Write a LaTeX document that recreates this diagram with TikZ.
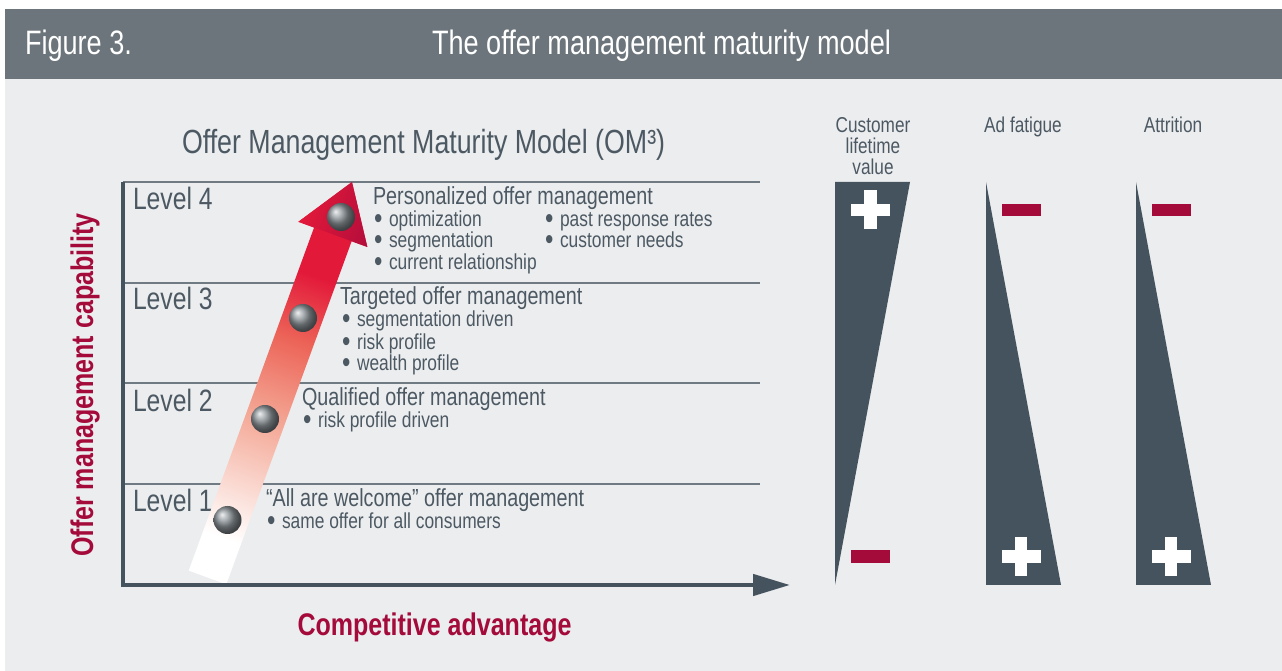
\documentclass[tikz,border=0pt]{standalone}
\usepackage{fontspec}
\setmainfont[FakeStretch=0.8]{Liberation Sans}
\usetikzlibrary{arrows.meta,shadings}
\definecolor{headergray}{HTML}{6B757B}
\definecolor{panelbg}{HTML}{ECEDEF}
\definecolor{textgray}{HTML}{4C5963}
\definecolor{slate}{HTML}{44535E}
\definecolor{linegray}{HTML}{6F7A82}
\definecolor{omred}{HTML}{A40B3B}
\definecolor{arrowsalmon}{HTML}{F4A896}
\definecolor{arrowcoral}{HTML}{EC6458}
\definecolor{arrowred}{HTML}{E3193A}
\definecolor{arrowdark}{HTML}{B20D3B}
\definecolor{ballgray}{HTML}{8C9398}
\pgfdeclareverticalshading{offerarrow}{100bp}{color(0bp)=(white); color(30bp)=(white); color(45bp)=(arrowsalmon); color(55bp)=(arrowcoral); color(63bp)=(arrowred); color(75bp)=(arrowred); color(100bp)=(arrowred)}
\newcommand{\omdot}{\makebox[7.5bp][l]{\smash{\raisebox{-0.9bp}{\fontsize{15}{12}\selectfont •}}}}
\begin{document}
\begin{tikzpicture}[>=latex,line join=bevel,
  every node/.style={inner sep=0pt,outer sep=0pt,text=textgray},
  header/.style={anchor=base west,text=white,font=\fontsize{17}{20}\selectfont},
  level/.style={anchor=base west,font=\fontsize{15.5}{18}\selectfont},
  item head/.style={anchor=base west,font=\fontsize{12.4}{14}\selectfont},
  item/.style={anchor=base west,font=\fontsize{10.9}{12}\selectfont},
  effect head/.style={anchor=base,font=\fontsize{10.8}{12}\selectfont},
  axis label/.style={anchor=base,text=omred,font=\bfseries\fontsize{15.7}{18}\selectfont},
  ball/.style={circle,minimum size=14bp,shading=ball,ball color=ballgray},
  plus bar h/.style={fill=white,minimum width=19.5bp,minimum height=6.25bp},
  plus bar v/.style={fill=white,minimum width=6.25bp,minimum height=19.5bp},
  minus bar/.style={fill=omred,minimum width=19.5bp,minimum height=6.25bp},
  level line/.style={draw=linegray,line width=0.75bp},
  axis line/.style={draw=slate,line width=2.25bp,line join=miter},
  ]
\useasboundingbox (0bp,0bp) rectangle (641bp,335.5bp);
%% backgrounds
\fill [white] (0bp,0bp) rectangle (641bp,335.5bp);
\fill [panelbg] (2.5bp,0bp) rectangle (641bp,296bp);
\fill [headergray] (2.5bp,296bp) rectangle (641bp,331bp);
\node (fig_label) at (12.5bp,308bp) [header] {Figure 3.};
\node (fig_title) at (216bp,308bp) [header] {The offer management maturity model};
\node (om_title) at (91bp,258.5bp) [anchor=base west,font=\fontsize{16.8}{19}\selectfont] {Offer Management Maturity Model (OM³)};
%% levels
\coordinate (y_top) at (61.5bp,244.5bp);
\coordinate (x_end) at (395bp,43bp);
\draw [level line] (y_top) -- (380bp,244.5bp);
\draw [level line] (61.5bp,194bp) -- (380bp,194bp);
\draw [level line] (61.5bp,144bp) -- (380bp,144bp);
\draw [level line] (61.5bp,93.5bp) -- (380bp,93.5bp);
\node (level_4) at (66.5bp,230.5bp) [level] {Level 4};
\node (level_3) at (66.5bp,180.5bp) [level] {Level 3};
\node (level_2) at (66.5bp,129.5bp) [level] {Level 2};
\node (level_1) at (66.5bp,79.5bp) [level] {Level 1};
%% red arrow
\begin{scope}[transform canvas={shift={(103.75bp,46.75bp)},rotate=-20.07}]
  \shade [shading=offerarrow] (-10bp,0bp) -- (-10bp,182.65bp) -- (-18.35bp,182.65bp) -- (0bp,210.5bp) -- (18.35bp,182.65bp) -- (10bp,182.65bp) -- (10bp,0bp) -- cycle;
  \shade [left color=arrowred,right color=arrowdark] (-18.35bp,182.65bp) -- (0bp,210.5bp) -- (18.35bp,182.65bp) -- cycle;
\end{scope}
\node (ball_4) at (170.5bp,227bp) [ball] {};
\node (ball_3) at (151.5bp,176.5bp) [ball] {};
\node (ball_2) at (132.5bp,126bp) [ball] {};
\node (ball_1) at (113.75bp,75.5bp) [ball] {};
%% axes
\draw [axis line,-{Triangle[length=18.5bp,width=10.5bp]}] (y_top) |- (x_end);
\node (y_label) at (46.5bp,143bp) [axis label,rotate=90] {Offer management capability};
\node (x_label) at (217.25bp,18bp) [axis label] {Competitive advantage};
%% level texts
\node (lvl4_head) at (186.5bp,233bp) [item head] {Personalized offer management};
\node (lvl4_a) at (187bp,222bp) [item] {\omdot optimization};
\node (lvl4_b) at (187bp,211.5bp) [item] {\omdot segmentation};
\node (lvl4_c) at (187bp,200.5bp) [item] {\omdot current relationship};
\node (lvl4_d) at (272.5bp,222bp) [item] {\omdot past response rates};
\node (lvl4_e) at (272.5bp,211.5bp) [item] {\omdot customer needs};
\node (lvl3_head) at (170bp,183bp) [item head] {Targeted offer management};
\node (lvl3_a) at (171bp,172bp) [item] {\omdot segmentation driven};
\node (lvl3_b) at (171bp,160.5bp) [item] {\omdot risk profile};
\node (lvl3_c) at (171bp,150bp) [item] {\omdot wealth profile};
\node (lvl2_head) at (151bp,132.5bp) [item head] {Qualified offer management};
\node (lvl2_a) at (151.5bp,121.5bp) [item] {\omdot risk profile driven};
\node (lvl1_head) at (133bp,82bp) [item head] {“All are welcome” offer management};
\node (lvl1_a) at (133.5bp,71bp) [item] {\omdot same offer for all consumers};
%% effects
\node (clv_head_1) at (436.5bp,269bp) [effect head] {Customer};
\node (clv_head_2) at (436.5bp,258.5bp) [effect head] {lifetime};
\node (clv_head_3) at (436.5bp,248bp) [effect head] {value};
\node (fatigue_head) at (511.5bp,269bp) [effect head] {Ad fatigue};
\node (attrition_head) at (586.5bp,269bp) [effect head] {Attrition};
\fill [slate] (417.5bp,244.5bp) -- (455bp,244.5bp) -- (417.5bp,43bp) -- cycle;
\fill [slate] (493bp,244.5bp) -- (530.5bp,43bp) -- (493bp,43bp) -- cycle;
\fill [slate] (568bp,244.5bp) -- (605.5bp,43bp) -- (568bp,43bp) -- cycle;
\node (clv_plus_h) at (435.25bp,230.5bp) [plus bar h] {};
\node (clv_plus_v) at (435.25bp,230.5bp) [plus bar v] {};
\node (clv_minus) at (435.25bp,57.25bp) [minus bar] {};
\node (fatigue_minus) at (510.5bp,230.5bp) [minus bar] {};
\node (fatigue_plus_h) at (510.5bp,57.25bp) [plus bar h] {};
\node (fatigue_plus_v) at (510.5bp,57.25bp) [plus bar v] {};
\node (attrition_minus) at (585.5bp,230.5bp) [minus bar] {};
\node (attrition_plus_h) at (585.5bp,57.25bp) [plus bar h] {};
\node (attrition_plus_v) at (585.5bp,57.25bp) [plus bar v] {};
%
\end{tikzpicture}
\end{document}
